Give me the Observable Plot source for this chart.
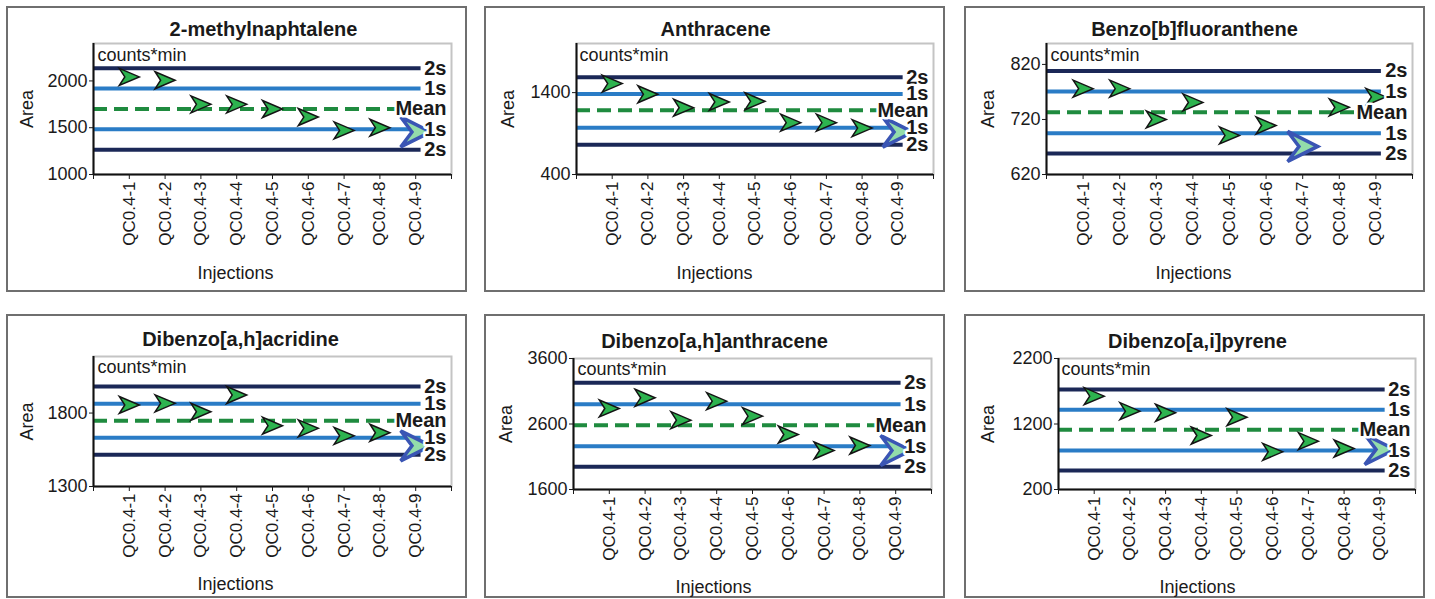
<!DOCTYPE html>
<html><head><meta charset="utf-8">
<script src="https://cdn.jsdelivr.net/npm/d3@7"></script>
<script src="https://cdn.jsdelivr.net/npm/@observablehq/plot@0.6"></script>
<style>
body{margin:0;background:#fff;font-family:"Liberation Sans",Arial,sans-serif;}
#wrap{position:relative;width:1435px;height:599px;overflow:hidden;}
.panel{position:absolute;border:2px solid #6f6f6f;background:#fff;width:457px;}
.panel svg{display:block;}
</style></head><body><div id="wrap"></div>
<script>
// ---- data ----
const injections = ["QC0.4-1","QC0.4-2","QC0.4-3","QC0.4-4","QC0.4-5","QC0.4-6","QC0.4-7","QC0.4-8","QC0.4-9"];
const compounds = ["2-methylnaphtalene","Anthracene","Benzo[b]fluoranthene","Dibenzo[a,h]acridine","Dibenzo[a,h]anthracene","Dibenzo[a,i]pyrene"];
const limitLabels = ["2s","1s","Mean","1s","2s"];
const limitKinds = ["2s","1s","mean","1s","2s"];

const area_methylnaphtalene = [2043, 2007, 1750, 1750, 1700, 1614, 1471, 1500, 1455];
const area_anthracene       = [1510, 1380, 1216, 1286, 1294, 1033, 1033, 967, 918];
const area_benzobfluor      = [776, 776, 720, 751, 691, 709, 671, 742, 761];
const area_dibenzoahacrid   = [1855, 1866, 1809, 1923, 1714, 1696, 1645, 1666, 1577];
const area_dibenzoahanth    = [2837, 3000, 2659, 2949, 2720, 2440, 2195, 2272, 2195];
const area_dibenzoaipyrene  = [1625, 1396, 1371, 1024, 1304, 775, 938, 826, 811];

// control limits: +2s, +1s, mean, -1s, -2s
const limits_methylnaphtalene = [2135, 1918, 1700, 1483, 1265];
const limits_anthracene       = [1588, 1384, 1184, 971, 763];
const limits_benzobfluor      = [808, 771, 733, 695, 658];
const limits_dibenzoahacrid   = [1980, 1864, 1748, 1632, 1516];
const limits_dibenzoahanth    = [3229, 2903, 2582, 2262, 1946];
const limits_dibenzoaipyrene  = [1727, 1416, 1111, 795, 490];

const yDomains = [[1000, 2400], [400, 2000], [620, 858], [1300, 2185], [1600, 3600], [200, 2200]];
const yTicks = [[1000, 1500, 2000], [400, 1400], [620, 720, 820], [1300, 1800], [1600, 2600, 3600], [200, 1200, 2200]];
const highlighted = ["QC0.4-9","QC0.4-9","QC0.4-7","QC0.4-9","QC0.4-9","QC0.4-9"];

const areas = [area_methylnaphtalene, area_anthracene, area_benzobfluor, area_dibenzoahacrid, area_dibenzoahanth, area_dibenzoaipyrene];
const limits = [limits_methylnaphtalene, limits_anthracene, limits_benzobfluor, limits_dibenzoahacrid, limits_dibenzoahanth, limits_dibenzoaipyrene];

// ---- layout (pixels) ----
const W = 457;
const layout = [
  {left:6,   top:6,   h:282, mL:85, mR:14, mT:35, mB:116, titleX:255, titleY:27, areaX:24, injX:227, injY:270, cmX:89, cmY:52},
  {left:484, top:6,   h:282, mL:90, mR:10, mT:35, mB:116, titleX:229, titleY:27, areaX:27, injX:228, injY:270, cmX:93, cmY:52},
  {left:964, top:6,   h:282, mL:80, mR:11, mT:35, mB:116, titleX:228, titleY:27, areaX:27, injX:227, injY:270, cmX:84, cmY:52},
  {left:6,   top:314, h:280, mL:85, mR:14, mT:40, mB:110, titleX:232, titleY:29, areaX:24, injX:227, injY:273, cmX:89, cmY:56},
  {left:484, top:314, h:280, mL:87, mR:12, mT:42, mB:107, titleX:228, titleY:31, areaX:25, injX:227, injY:276, cmX:91, cmY:58},
  {left:964, top:314, h:280, mL:92, mR:8,  mT:42, mB:107, titleX:231, titleY:31, areaX:27, injX:231, injY:276, cmX:95, cmY:58}
];

const colors = {"2s": "#1b2857", "1s": "#2a7cc6", "mean": "#1f8b3f"};

const chevron = {draw(ctx, size) {
  const r = Math.sqrt(size / Math.PI);
  ctx.moveTo(-r, -0.85 * r); ctx.lineTo(r, 0); ctx.lineTo(-r, 0.85 * r); ctx.lineTo(-0.45 * r, 0); ctx.closePath();
}};
const chevronBig = {draw(ctx, size) {
  const r = Math.sqrt(size / Math.PI);
  ctx.moveTo(-r, -r); ctx.lineTo(r, 0); ctx.lineTo(-r, r); ctx.lineTo(-0.25 * r, 0); ctx.closePath();
}};

const wrap = document.getElementById("wrap");
const n = injections.length;

compounds.forEach((name, i) => {
  const L = layout[i];
  const pts = injections.map((inj, j) => ({idx: j + 1, inj, area: areas[i][j]}));
  const normal = pts.filter(d => d.inj !== highlighted[i]);
  const hi = pts.filter(d => d.inj === highlighted[i]);
  const levels = limitLabels.map((label, k) => ({label, value: limits[i][k], kind: limitKinds[k]}));
  const solid = levels.filter(d => d.kind !== "mean");
  const mean = levels.filter(d => d.kind === "mean");
  const plotH = L.h - L.mT - L.mB;
  const font = "'Liberation Sans', Arial, sans-serif";
  const lineEnd = n + 0.15;

  const chart = Plot.plot({
    width: W, height: L.h,
    marginLeft: L.mL, marginRight: L.mR, marginTop: L.mT, marginBottom: L.mB,
    x: {type: "linear", domain: [0, n + 1]},
    y: {type: "linear", domain: yDomains[i]},
    style: {fontFamily: font, color: "#1a1a1a", background: "#fff", overflow: "visible"},
    marks: [
      Plot.frame({stroke: "#c4c4c4", strokeWidth: 2}),
      Plot.ruleY(solid, {y: "value", x1: 0, x2: lineEnd, stroke: d => colors[d.kind], strokeWidth: 4}),
      Plot.ruleY(mean, {y: "value", x1: 0, x2: lineEnd, stroke: colors.mean, strokeWidth: 4, strokeDasharray: "14,7"}),
      Plot.dot(normal, {x: "idx", y: "area", symbol: chevron, r: 10, fill: "#2db34f", stroke: "#141414", strokeWidth: 1.5}),
      Plot.dot(hi, {x: "idx", y: "area", symbol: chevronBig, r: 15, fill: "#93dcaa", stroke: "#3a55b4", strokeWidth: 3.5, strokeLinejoin: "miter"}),
      Plot.text(levels, {y: "value", text: "label", frameAnchor: "right", dx: -5, textAnchor: "end", fontWeight: "bold", fontSize: 20, fill: "#1a1a1a", stroke: "#fff", strokeWidth: 5, paintOrder: "stroke"}),
      Plot.ruleX([0], {stroke: "#111", strokeWidth: 2}),
      Plot.ruleY([yDomains[i][0]], {stroke: "#111", strokeWidth: 2}),
      Plot.axisY({ticks: yTicks[i], tickSize: 4, tickPadding: 2, fontSize: 18, label: null, tickFormat: d => String(d)}),
      Plot.axisX({ticks: d3.range(0, n + 2), tickFormat: d => injections[d - 1] ?? "", tickRotate: -90, tickSize: 5, tickPadding: 2, fontSize: 17, label: null}),
      Plot.text(["counts*min"], {frameAnchor: "top-left", dx: L.cmX - L.mL, dy: L.cmY - L.mT, textAnchor: "start", lineAnchor: "bottom", fontSize: 18}),
      Plot.text([name], {frameAnchor: "top-left", dx: L.titleX - L.mL, dy: L.titleY - L.mT, textAnchor: "middle", lineAnchor: "bottom", fontSize: 20, fontWeight: "bold"}),
      Plot.text(["Area"], {frameAnchor: "top-left", dx: L.areaX - L.mL, dy: plotH / 2, rotate: -90, textAnchor: "middle", lineAnchor: "bottom", fontSize: 18}),
      Plot.text(["Injections"], {frameAnchor: "top-left", dx: L.injX - L.mL, dy: L.injY - L.mT, textAnchor: "middle", lineAnchor: "bottom", fontSize: 18})
    ]
  });
  const box = document.createElement("div");
  box.className = "panel";
  box.style.left = L.left + "px";
  box.style.top = L.top + "px";
  box.style.height = L.h + "px";
  box.appendChild(chart);
  wrap.appendChild(box);
});
</script>
</body></html>
